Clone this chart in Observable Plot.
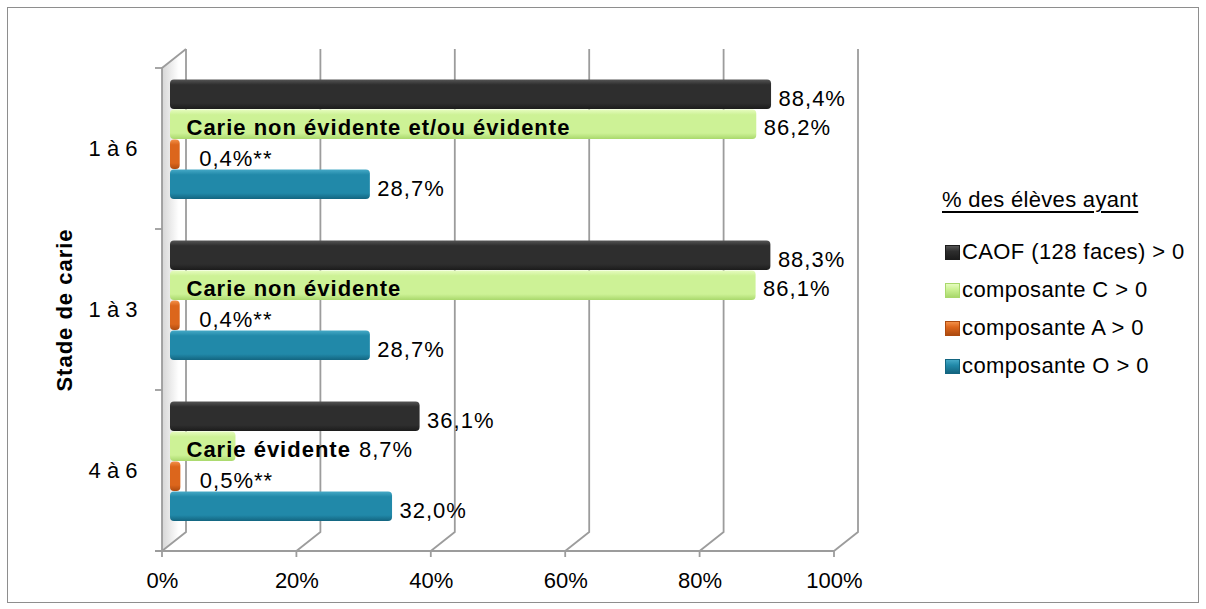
<!DOCTYPE html>
<html>
<head>
<meta charset="utf-8">
<script src="https://cdn.jsdelivr.net/npm/d3@7"></script>
<script src="https://cdn.jsdelivr.net/npm/@observablehq/plot@0.6"></script>
<style>
  html, body { margin: 0; padding: 0; background: #fff; }
  body { width: 1206px; height: 609px; position: relative; overflow: hidden;
         font-family: "Liberation Sans", Arial, Helvetica, sans-serif; }
  #frame { position: absolute; left: 7px; top: 7px; width: 1192px; height: 596px;
           border: 1px solid #8e8e8e; box-sizing: border-box; }
  #chart { position: absolute; left: 0; top: 0; }
  #legend { position: absolute; left: 942px; top: 187px; font-size: 22px; color: #000; }
  #legend .title { height: 26px; line-height: 26px; text-decoration: underline;
                   text-underline-offset: 4px; letter-spacing: 0.3px; margin-bottom: 20px; }
  #legend .row { height: 38px; line-height: 38px; white-space: nowrap; letter-spacing: 0.4px; }
  #legend .sw { display: inline-block; width: 15px; height: 15px; margin: 0 2px 0 3px;
                vertical-align: -1px; box-sizing: border-box; }
  g[aria-label="fy-axis label"] text { font-weight: bold; letter-spacing: 1px; }
  g[aria-label="text"] text { letter-spacing: 1px; }
</style>
</head>
<body>
<div id="frame"></div>
<div id="chart"></div>
<div id="legend"></div>
<script>
(function () {
// ---- data ----
const stages = ["1 à 6", "1 à 3", "4 à 6"];
const series = ["CAOF (128 faces) > 0", "composante C > 0", "composante A > 0", "composante O > 0"];
const caof  = [88.4, 88.3, 36.1];
const compC = [86.2, 86.1, 8.7];
const compA = [0.4, 0.4, 0.5];
const compO = [28.7, 28.7, 32.0];
const cLabels = ["Carie non évidente et/ou évidente", "Carie non évidente", "Carie évidente"];
const suffixes = ["", "", "**", ""];
const xTicks = [0, 20, 40, 60, 80, 100];
const legendTitle = "% des élèves ayant";
const yLabel = "Stade de carie";

// ---- styles ----
const gradStops = [
  ["#555555", "#2e2e2e", "#1c1c1c"],
  ["#e6fcbf", "#cdf296", "#a9d86c"],
  ["#f39049", "#dc661c", "#ad4b10"],
  ["#45a9c6", "#2189a9", "#136580"]
];
const W = 900, H = 609, mL = 177, mR = 51, mT = 68, mB = 58;
const BACK = 9, FRONT = -15, DEPTH_Y = 19;
const FONT = '"Liberation Sans", Arial, Helvetica, sans-serif';
const LS = 1; // letter-spacing px

const allValues = [caof, compC, compA, compO];
const rows = stages.flatMap((s, i) => series.map((k, j) => ({
  stage: s, series: k, j, i, value: allValues[j][i],
  label: allValues[j][i].toFixed(1).replace(".", ",") + "%" + suffixes[j]
})));

const sx = d3.scaleLinear([0, 100], [mL, W - mR]);
const cv = document.createElement("canvas").getContext("2d");
function textW(str, font) { cv.font = font; return cv.measureText(str).width + LS * str.length; }

// position of value labels for C series: after the bold label if it would overlap
const cRows = rows.filter(d => d.j === 1).map(d => {
  const labelEnd = sx(0) + 9 + textW(cLabels[d.i], `bold 22px ${FONT}`);
  const p = Math.max(sx(d.value) + 7, labelEnd + 8);
  return {...d, lx: sx.invert(p - 7), cl: cLabels[d.i]};
});

const marks = [
  Plot.axisFy({anchor: "left", tickSize: 0, tickPadding: 40, label: yLabel,
               labelAnchor: "center", labelOffset: 121, fontSize: 22}),
  Plot.axisX({ticks: xTicks, tickSize: 0, tickPadding: 21, tickFormat: d => d + "%",
              dx: FRONT, label: null, fontSize: 22})
];
series.forEach((k, j) => {
  marks.push(Plot.barX(rows.filter(d => d.j === j), {
    x: "value", y: "series", fy: "stage", fill: `url(#grad${j})`,
    dy: -10, insetTop: 0.5, insetBottom: 0, insetLeft: -7, rx: 4
  }));
});
marks.push(Plot.text(cRows, {x: 0, y: "series", fy: "stage", text: "cl", dx: 9, dy: -7,
  textAnchor: "start", fontWeight: "bold", fontSize: 22, fill: "#000"}));
marks.push(Plot.text(cRows, {x: "lx", y: "series", fy: "stage", text: "label", dx: 7, dy: -7,
  textAnchor: "start", fontSize: 22, fill: "#000"}));
marks.push(Plot.text(rows.filter(d => d.j === 0 || d.j === 3), {x: "value", y: "series", fy: "stage",
  text: "label", dx: 7, dy: -6, textAnchor: "start", fontSize: 22, fill: "#000"}));
marks.push(Plot.text(rows.filter(d => d.j === 2), {x: "value", y: "series", fy: "stage",
  text: "label", dx: 19, dy: -6, textAnchor: "start", fontSize: 22, fill: "#000"}));

const plot = Plot.plot({
  width: W, height: H,
  marginLeft: mL, marginRight: mR, marginTop: mT, marginBottom: mB,
  style: {fontFamily: FONT, fontSize: "22px", color: "#000", background: "transparent", overflow: "visible"},
  x: {domain: [0, 100]},
  y: {domain: series, axis: null, paddingInner: 0, paddingOuter: 0.68},
  fy: {domain: stages, padding: 0},
  marks
});
document.getElementById("chart").appendChild(plot);

// ---- gradients and 3D frame (positions via the plot's x scale) ----
const svg = d3.select(plot);
const xs = plot.scale("x");
const px = d3.scaleLinear(xs.domain, xs.range);
const defs = svg.insert("defs", ":first-child");
gradStops.forEach((st, j) => {
  const g = defs.append("linearGradient").attr("id", `grad${j}`)
    .attr("x1", 0).attr("y1", 0).attr("x2", 0).attr("y2", 1);
  g.append("stop").attr("offset", "0%").attr("stop-color", st[0]);
  g.append("stop").attr("offset", "18%").attr("stop-color", st[1]);
  g.append("stop").attr("offset", "80%").attr("stop-color", st[1]);
  g.append("stop").attr("offset", "100%").attr("stop-color", st[2]);
});
const wg = defs.append("linearGradient").attr("id", "wall").attr("x1", 0).attr("x2", 1).attr("y1", 0).attr("y2", 0);
wg.append("stop").attr("offset", "0%").attr("stop-color", "#d6d6d6");
wg.append("stop").attr("offset", "70%").attr("stop-color", "#ffffff");

const yTop = mT, yBot = H - mB;
const bTop = yTop - DEPTH_Y, bBot = yBot - DEPTH_Y;
const deco = svg.insert("g", "defs + *").attr("stroke", "#9c9c9c").attr("stroke-width", 1.8).attr("fill", "none");
const f0 = px(0) + FRONT, b0 = px(0) + BACK;
deco.append("path").attr("stroke", "none").attr("fill", "url(#wall)")
  .attr("d", `M${f0},${yTop}L${b0},${bTop}L${b0},${bBot}L${f0},${yBot}Z`);
xTicks.forEach(v => {
  const b = px(v) + BACK, f = px(v) + FRONT;
  deco.append("path").attr("d", `M${b},${bTop}L${b},${bBot}L${f},${yBot}`);
  deco.append("path").attr("d", `M${f},${yBot}L${f},${yBot + 6}`);
});
deco.append("path").attr("d", `M${f0},${yBot}L${f0},${yTop}L${b0},${bTop}`);
deco.append("path").attr("d", `M${f0 - 7},${yBot}L${px(100) + FRONT},${yBot}`);
const step = (yBot - yTop) / stages.length;
d3.range(stages.length + 1).forEach(k => {
  const y = yTop + k * step;
  deco.append("path").attr("d", `M${f0 - 7},${y}L${f0},${y}`);
});

// ---- legend ----
const lg = d3.select("#legend");
lg.append("div").attr("class", "title").text(legendTitle);
series.forEach((k, j) => {
  const r = lg.append("div").attr("class", "row");
  r.append("span").attr("class", "sw")
    .style("background", `linear-gradient(${gradStops[j][0]}, ${gradStops[j][1]} 40%, ${gradStops[j][2]})`)
    .style("border", `1px solid ${gradStops[j][2]}`);
  r.append("span").text(k);
});
})();
</script>
</body>
</html>
